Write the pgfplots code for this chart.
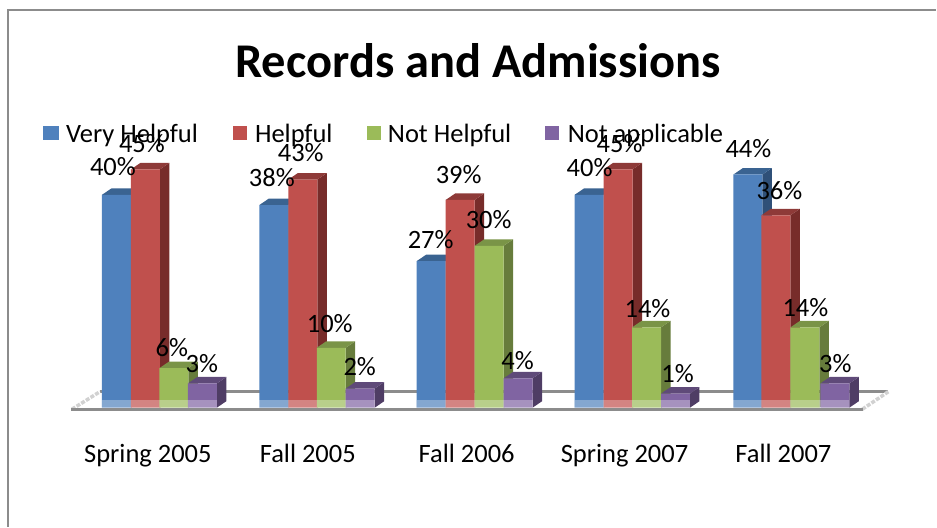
\documentclass[border=0pt]{standalone}
\usepackage{pgfplots}
\usepackage{pgfplotstable}
\usepackage{fontspec}
\setmainfont{Carlito}
\pgfplotsset{compat=1.18}
\definecolor{cb}{HTML}{4F81BD}\definecolor{cbt}{HTML}{3A6391}\definecolor{cbs}{HTML}{2F5078}
\definecolor{cr}{HTML}{C0504D}\definecolor{crt}{HTML}{8E3A38}\definecolor{crs}{HTML}{772C2A}
\definecolor{cg}{HTML}{9BBB59}\definecolor{cgt}{HTML}{7A9447}\definecolor{cgs}{HTML}{677C3C}
\definecolor{cp}{HTML}{8064A2}\definecolor{cpt}{HTML}{5F4A79}\definecolor{cps}{HTML}{4F3D65}
\definecolor{floor}{HTML}{8C8C8C}
\pgfplotstableread{
x v
102 40
259.5 38
417 27
575 40
734 44
}\tblue
\pgfplotstableread{
x v
131 45
288.5 43
446 39
604 45
762 36
}\tred
\pgfplotstableread{
x v
159.5 6
317 10
475 30
632.5 14
791 14
}\tgreen
\pgfplotstableread{
x v
188 3
346 2
504 4
661.5 1
821 3
}\tpurple
% first argument: centre of the bar's front face; second: value in percent
\newcommand{\sidetop}[4]{%
  \pgfmathsetmacro{\xa}{#1+14.5}\pgfmathsetmacro{\xb}{#1+24}%
  \pgfmathsetmacro{\xl}{#1-14.5}\pgfmathsetmacro{\xm}{#1-5}%
  \pgfmathsetmacro{\yt}{#2+1.76}\pgfmathsetmacro{\yu}{#2+1.76+1.27}%
  \edef\temp{\noexpand\addplot[fill=#3,draw=none,forget plot] coordinates {(\xa,0)(\xb,1.27)(\xb,\yu)(\xa,\yt)};
  \noexpand\addplot[fill=#4,draw=none,forget plot] coordinates {(\xl,\yt)(\xm,\yu)(\xb,\yu)(\xa,\yt)};}\temp}
\newcommand{\lab}[3]{\node[anchor=base,font=\fontsize{26.5}{26.5}\selectfont,inner sep=0pt] at (axis cs:#1,{(407-#2)/5.1}) {#3};}
\newcommand{\leg}[3]{\node[anchor=base west,font=\fontsize{26.5}{26.5}\selectfont,inner sep=0pt] at (axis cs:#1,{(407-#2)/5.1}) {#3};}
\newcommand{\strip}[2]{\addplot[fill=white,fill opacity=0.3,draw=none,forget plot] coordinates {(#1,0)(#2,0)(#2,1.57)(#1,1.57)};}
\begin{document}
\begin{tikzpicture}
\begin{axis}[
  scale only axis,width=937pt,height=527pt,
  xmin=0,xmax=937,ymin=-23.333,ymax=80,
  hide axis,clip=false]
\path (axis cs:0,-23.333) rectangle (axis cs:937,80);
% frame
\addplot[draw=floor,line width=1.6pt,forget plot] coordinates {(8,-23.333)(8,78.04)(936.9,78.04)};
% floor
\addplot[draw=floor,line width=3.6pt,forget plot] coordinates {(100,3.14)(889,3.14)};
\addplot[draw=black!18,line width=3.5pt,dash pattern=on 4pt off 1.5pt,forget plot] coordinates {(72,-0.3)(100,3.14)};
\addplot[draw=black!18,line width=3.5pt,dash pattern=on 4pt off 1.5pt,forget plot] coordinates {(863,-0.3)(889,3.14)};
% blue
\sidetop{116.5}{40}{cbs}{cbt}\sidetop{274}{38}{cbs}{cbt}\sidetop{431.5}{27}{cbs}{cbt}\sidetop{589.5}{40}{cbs}{cbt}\sidetop{748.5}{44}{cbs}{cbt}
\addplot[ybar,bar width=29pt,bar shift=0pt,fill=cb,draw=none,forget plot] table[x expr=\thisrow{x}+14.5,y expr=\thisrow{v}+1.76] {\tblue};
% red
\sidetop{145.5}{45}{crs}{crt}\sidetop{303}{43}{crs}{crt}\sidetop{460.5}{39}{crs}{crt}\sidetop{618.5}{45}{crs}{crt}\sidetop{776.5}{36}{crs}{crt}
\addplot[ybar,bar width=29pt,bar shift=0pt,fill=cr,draw=none,forget plot] table[x expr=\thisrow{x}+14.5,y expr=\thisrow{v}+1.76] {\tred};
% green
\sidetop{174}{6}{cgs}{cgt}\sidetop{331.5}{10}{cgs}{cgt}\sidetop{489.5}{30}{cgs}{cgt}\sidetop{647}{14}{cgs}{cgt}\sidetop{805.5}{14}{cgs}{cgt}
\addplot[ybar,bar width=29pt,bar shift=0pt,fill=cg,draw=none,forget plot] table[x expr=\thisrow{x}+14.5,y expr=\thisrow{v}+1.76] {\tgreen};
% purple
\sidetop{202.5}{3}{cps}{cpt}\sidetop{360.5}{2}{cps}{cpt}\sidetop{518.5}{4}{cps}{cpt}\sidetop{676}{1}{cps}{cpt}\sidetop{835.5}{3}{cps}{cpt}
\addplot[ybar,bar width=29pt,bar shift=0pt,fill=cp,draw=none,forget plot] table[x expr=\thisrow{x}+14.5,y expr=\thisrow{v}+1.76] {\tpurple};
% translucent floor front
\strip{102}{217}\strip{259.5}{375}\strip{417}{533}\strip{575}{690.5}\strip{734}{850}
\addplot[draw=floor,line width=3pt,forget plot] coordinates {(71,-0.4)(864,-0.4)};
% legend keys
\addplot[fill=cb,draw=none,forget plot] coordinates {(43,52.55)(59,52.55)(59,55.3)(43,55.3)};
\addplot[fill=cr,draw=none,forget plot] coordinates {(233,52.55)(247,52.55)(247,55.3)(233,55.3)};
\addplot[fill=cg,draw=none,forget plot] coordinates {(367,52.55)(381,52.55)(381,55.3)(367,55.3)};
\addplot[fill=cp,draw=none,forget plot] coordinates {(545,52.55)(559,52.55)(559,55.3)(545,55.3)};
\leg{66}{142}{Very Helpful}\leg{255}{142}{Helpful}\leg{388}{142}{Not Helpful}\leg{568}{142}{Not applicable}
% title
\node[anchor=base,font=\fontsize{48.5}{48.5}\selectfont\bfseries,inner sep=0pt] at (axis cs:478.5,{(408-78)/5.1}) {Records and Admissions};
% data labels
\lab{113}{175}{40\%}\lab{142}{152}{45\%}\lab{172}{356}{6\%}\lab{202}{372}{3\%}
\lab{272}{186}{38\%}\lab{301}{161}{43\%}\lab{330}{332}{10\%}\lab{360}{375}{2\%}
\lab{431}{248}{27\%}\lab{459}{183}{39\%}\lab{489}{228}{30\%}\lab{518}{369}{4\%}
\lab{590}{176}{40\%}\lab{620}{152}{45\%}\lab{648}{317}{14\%}\lab{678}{382}{1\%}
\lab{749}{157}{44\%}\lab{780}{199}{36\%}\lab{806}{316}{14\%}\lab{836}{372}{3\%}
% categories
\lab{148}{462}{Spring 2005}\lab{308}{462}{Fall 2005}\lab{467}{462}{Fall 2006}\lab{625}{462}{Spring 2007}\lab{784}{462}{Fall 2007}
\end{axis}
\end{tikzpicture}
\end{document}
